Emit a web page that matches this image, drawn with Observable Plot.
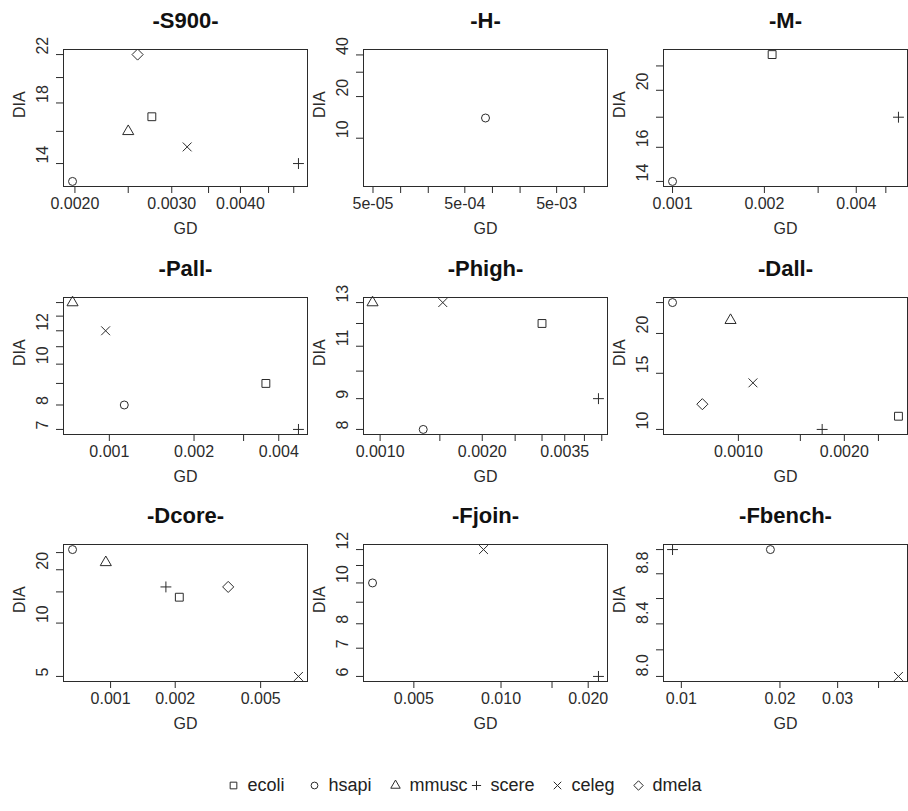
<!DOCTYPE html>
<html><head><meta charset="utf-8">
<script src="https://cdn.jsdelivr.net/npm/d3@7"></script>
<script src="https://cdn.jsdelivr.net/npm/@observablehq/plot@0.6"></script>
<style>
html,body{margin:0;padding:0;background:#fff;}
#root{position:relative;width:908px;height:811px;overflow:hidden;font-family:"Liberation Sans",Arial,sans-serif;}
.panel{position:absolute;}
#legend{position:absolute;left:0;top:769px;}
</style></head><body><div id="root"></div>
<script>
// ---- data (order of species in every array) ----
const species = ["ecoli", "hsapi", "mmusc", "scere", "celeg", "dmela"];
const panelTitles = ["-S900-", "-H-", "-M-", "-Pall-", "-Phigh-", "-Dall-", "-Dcore-", "-Fjoin-", "-Fbench-"];

const gdS900 = [0.00276, 0.00198, 0.0025, 0.0051, 0.0032, 0.0026];
const diaS900 = [17, 13, 16, 14, 15, 22];
const gdH = [null, 0.00084, null, null, null, null];
const diaH = [null, 14, null, null, null, null];
const gdM = [0.00212, 0.001, null, 0.0055, null, null];
const diaM = [23, 14, null, 18, null, null];
const gdPall = [0.0036, 0.00113, 0.00074, 0.0047, 0.00097, null];
const diaPall = [9, 8, 14, 7, 12, null];
const gdPhigh = [0.003, 0.00134, 0.00095, 0.0044, 0.00153, null];
const diaPhigh = [12, 8, 13, 9, 13, null];
const gdDall = [0.00285, 0.00065, 0.00095, 0.00173, 0.0011, 0.00079];
const diaDall = [11, 25, 22, 10, 14, 12];
const gdDcore = [0.00209, 0.000665, 0.00095, 0.00181, 0.0075, 0.00353];
const diaDcore = [14, 26, 22, 16, 5, 16];
const gdFjoin = [null, 0.0036, null, 0.0217, 0.0087, null];
const diaFjoin = [null, 10, null, 6, 12, null];
const gdFbench = [null, 0.0187, null, 0.0094, 0.046, null];
const diaFbench = [null, 9, null, 9, 8, null];

// ---- tick values and tick labels ("" = tick without label) ----
const xTicksS900 = [0.002, 0.0025, 0.003, 0.0035, 0.004, 0.0045, 0.005];
const xLabelsS900 = ["0.0020", "", "0.0030", "", "0.0040", "", ""];
const yTicksS900 = [14, 16, 18, 20, 22];
const yLabelsS900 = ["14", "", "18", "", "22"];
const xTicksH = [5e-5, 1e-4, 2e-4, 5e-4, 1e-3, 2e-3, 5e-3, 1e-2];
const xLabelsH = ["5e-05", "", "", "5e-04", "", "", "5e-03", ""];
const yTicksH = [10, 20, 30, 40];
const yLabelsH = ["10", "20", "", "40"];
const xTicksM = [0.001, 0.002, 0.003, 0.004, 0.005];
const xLabelsM = ["0.001", "0.002", "", "0.004", ""];
const yTicksM = [14, 16, 18, 20, 22];
const yLabelsM = ["14", "16", "", "20", ""];
const xTicksPall = [0.001, 0.002, 0.003, 0.004];
const xLabelsPall = ["0.001", "0.002", "", "0.004"];
const yTicksPall = [7, 8, 9, 10, 11, 12, 13, 14];
const yLabelsPall = ["7", "8", "", "10", "", "12", "", ""];
const xTicksPhigh = [0.001, 0.0015, 0.002, 0.0025, 0.003, 0.0035, 0.004, 0.0045];
const xLabelsPhigh = ["0.0010", "", "0.0020", "", "", "0.0035", "", ""];
const yTicksPhigh = [8, 9, 10, 11, 12, 13];
const yLabelsPhigh = ["8", "9", "", "11", "", "13"];
const xTicksDall = [0.001, 0.0015, 0.002, 0.0025];
const xLabelsDall = ["0.0010", "", "0.0020", ""];
const yTicksDall = [10, 15, 20, 25];
const yLabelsDall = ["10", "15", "20", ""];
const xTicksDcore = [0.001, 0.002, 0.005];
const xLabelsDcore = ["0.001", "0.002", "0.005"];
const yTicksDcore = [5, 10, 15, 20, 25];
const yLabelsDcore = ["5", "10", "", "20", ""];
const xTicksFjoin = [0.005, 0.01, 0.015, 0.02];
const xLabelsFjoin = ["0.005", "0.010", "", "0.020"];
const yTicksFjoin = [6, 7, 8, 9, 10, 11, 12];
const yLabelsFjoin = ["6", "7", "8", "", "10", "", "12"];
const xTicksFbench = [0.01, 0.02, 0.03, 0.04];
const xLabelsFbench = ["0.01", "0.02", "0.03", ""];
const yTicksFbench = [8.0, 8.2, 8.4, 8.6, 8.8, 9.0];
const yLabelsFbench = ["8.0", "", "8.4", "", "8.8", ""];

// ---- assemble ----
const panels = [
  [gdS900, diaS900, xTicksS900, xLabelsS900, yTicksS900, yLabelsS900],
  [gdH, diaH, xTicksH, xLabelsH, yTicksH, yLabelsH],
  [gdM, diaM, xTicksM, xLabelsM, yTicksM, yLabelsM],
  [gdPall, diaPall, xTicksPall, xLabelsPall, yTicksPall, yLabelsPall],
  [gdPhigh, diaPhigh, xTicksPhigh, xLabelsPhigh, yTicksPhigh, yLabelsPhigh],
  [gdDall, diaDall, xTicksDall, xLabelsDall, yTicksDall, yLabelsDall],
  [gdDcore, diaDcore, xTicksDcore, xLabelsDcore, yTicksDcore, yLabelsDcore],
  [gdFjoin, diaFjoin, xTicksFjoin, xLabelsFjoin, yTicksFjoin, yLabelsFjoin],
  [gdFbench, diaFbench, xTicksFbench, xLabelsFbench, yTicksFbench, yLabelsFbench]
];

const ink = "#2b2b2b";
const symbolOf = {ecoli: "square2", hsapi: "circle", mmusc: "triangle2", scere: "plus", celeg: "times", dmela: "diamond2"};
const rOf = {ecoli: 5.0, hsapi: 4.0, mmusc: 5.3, scere: 3.6, celeg: 4.1, dmela: 5.0};
const fontFamily = "'Liberation Sans', Arial, Helvetica, sans-serif";

// R-like log axis limits: collapse rule of GScale + 4% padding
function logDomain(vals) {
  const l = vals.filter(v => v != null).map(Math.log10);
  let lo = d3.min(l), hi = d3.max(l);
  if (hi - lo < 1e-12) { const a = Math.max(Math.abs(lo), Math.abs(hi)); lo -= 0.4 * a; hi += 0.4 * a; }
  const pad = 0.04 * (hi - lo);
  return [10 ** (lo - pad), 10 ** (hi + pad)];
}

const root = document.getElementById("root");
panels.forEach(([gd, dia, xt, xl, yt, yl], p) => {
  const col = p % 3, row = Math.floor(p / 3);
  const data = species.map((sp, i) => ({sp, gd: gd[i], dia: dia[i]})).filter(d => d.gd != null);
  const xLab = xt.map((t, i) => ({t, lab: xl[i]})).filter(d => d.lab);
  const yLab = yt.map((t, i) => ({t, lab: yl[i]})).filter(d => d.lab);
  const marks = [
    Plot.axisX({ticks: xt, tickFormat: () => "", tickSize: 7, stroke: ink, label: null}),
    Plot.axisY({ticks: yt, tickFormat: () => "", tickSize: 7, stroke: ink, label: null}),
    Plot.frame({stroke: ink, strokeWidth: 1}),
    Plot.text(xLab, {x: "t", text: "lab", frameAnchor: "bottom", lineAnchor: "middle", dy: 17, fill: ink}),
    Plot.text(yLab, {y: "t", text: "lab", frameAnchor: "left", lineAnchor: "middle", dx: -21, rotate: -90, fill: ink}),
    Plot.text(["GD"], {text: d => d, frameAnchor: "bottom", lineAnchor: "middle", dy: 42, fill: ink}),
    Plot.text(["DIA"], {text: d => d, frameAnchor: "left", lineAnchor: "middle", dx: -44, rotate: -90, fill: ink}),
    Plot.text([panelTitles[p]], {text: d => d, frameAnchor: "top", lineAnchor: "middle", dy: -29, fontWeight: "bold", fontSize: 22, fill: "#111"}),
    ...species.map(sp => Plot.dot(data.filter(d => d.sp === sp), {
      x: "gd", y: "dia", symbol: symbolOf[sp], r: rOf[sp], stroke: ink, strokeWidth: 1, fill: "none"
    }))
  ];
  const svg = Plot.plot({
    width: 308, height: 248,
    marginLeft: 63, marginRight: 1, marginTop: 49, marginBottom: 62,
    x: {type: "log", domain: logDomain(gd)},
    y: {type: "log", domain: logDomain(dia)},
    style: {fontFamily, fontSize: "16px", background: "transparent", overflow: "visible", color: ink},
    marks
  });
  svg.classList.add("panel");
  svg.style.left = (col * 300) + "px";
  svg.style.top = (row * 247.5) + "px";
  root.appendChild(svg);
});

// ---- legend ----
const legend = Plot.plot({
  width: 908, height: 32, margin: 0,
  x: {type: "point", domain: species, range: [233, 638], padding: 0, axis: null},
  style: {fontFamily, fontSize: "18px", background: "transparent", overflow: "visible"},
  marks: [
    ...species.map(sp => Plot.dot([sp], {x: d => d, frameAnchor: "middle", symbol: symbolOf[sp], r: rOf[sp] * 0.85, stroke: ink, strokeWidth: 1, fill: "none"})),
    Plot.text(species, {x: d => d, text: d => d, frameAnchor: "middle", lineAnchor: "middle", dx: 14, textAnchor: "start", fill: "#222"})
  ]
});
legend.id = "legend";
root.appendChild(legend);
</script>
</body></html>
